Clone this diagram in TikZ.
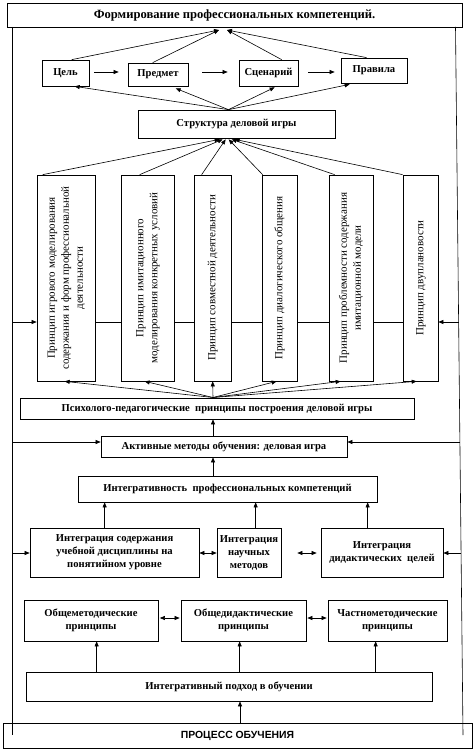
\documentclass[tikz,border=0pt]{standalone}
\usepackage{fontspec}
\setmainfont{Liberation Serif}
\newfontfamily\sansb{Liberation Sans}
\usetikzlibrary{arrows.meta,calc}
\tikzset{
  box/.style={draw, line width=0.7pt, fill=white, inner sep=1pt, align=center,
    font=\bfseries\fontsize{10.6}{13}\selectfont},
  vbox/.style={draw, line width=0.7pt, fill=white, inner sep=0pt, minimum height=206pt,
    font=\fontsize{11}{14}\selectfont},
  arr/.style={-{Triangle[length=5pt,width=4pt]}, line width=0.6pt},
  darr/.style={{Triangle[length=5pt,width=4pt]}-{Triangle[length=5pt,width=4pt]}, line width=0.6pt},
  ln/.style={line width=0.6pt}
}
\newcommand{\vtext}[1]{\rotatebox{90}{\begin{tabular}{@{}c@{}}#1\end{tabular}}}
\begin{document}
\begin{tikzpicture}[x=1pt,y=-1pt]
\useasboundingbox (0,0) rectangle (474,751);
% top
\node[box, minimum width=455pt, minimum height=24pt, font=\bfseries\fontsize{12.6}{14}\selectfont] (title) at (234.5,15) {Формирование профессиональных компетенций.};
% row of four
\node[box, minimum width=47pt, minimum height=26pt] (cel) at (65.5,73) {Цель};
\node[box, minimum width=60pt, minimum height=23pt] (pred) at (158,74.5) {Предмет};
\node[box, minimum width=59pt, minimum height=26pt] (scen) at (268.5,73) {Сценарий};
\node[box, minimum width=66pt, minimum height=25pt] (prav) at (374,70.5) {Правила};
\node[box, minimum width=197pt, minimum height=28pt] (str) at (236.5,124) {Структура деловой игры};
% vertical boxes
\node[vbox, minimum width=58pt] (b1) at (66,278) {\vtext{Принцип игрового моделирования\\содержания и форм профессиональной\\деятельности}};
\node[vbox, minimum width=53pt] (b2) at (147.5,278) {\vtext{Принцип имитационного\\моделирования конкретных условий}};
\node[vbox, minimum width=37pt] (b3) at (212.5,278) {\vtext{Принцип совместной деятельности}};
\node[vbox, minimum width=35pt] (b4) at (279.5,278) {\vtext{Принцип  диалогического общения}};
\node[vbox, minimum width=44pt] (b5) at (351,278) {\vtext{Принцип проблемности содержания\\имитационной модели}};
\node[vbox, minimum width=35pt] (b6) at (420.5,278) {\vtext{Принцип двуплановости}};
% middle
\node[box, minimum width=394pt, minimum height=21pt] (psy) at (217,408.5) {Психолого-педагогические \ принципы построения деловой игры};
\node[box, minimum width=246pt, minimum height=21pt] (act) at (224,446.5) {Активные методы обучения: деловая игра};
\node[box, minimum width=299pt, minimum height=26pt] (intg) at (227.5,489) {Интегративность \ профессиональных компетенций};
\node[box, minimum width=169pt, minimum height=49pt] (i1) at (114.5,552.5) {Интеграция содержания\\учебной дисциплины на\\понятийном уровне};
\node[box, minimum width=64pt, minimum height=49pt] (i2) at (249,552.5) {Интеграция\\научных\\методов};
\node[box, minimum width=122pt, minimum height=49pt] (i3) at (382,552.5) {Интеграция\\дидактических \ целей};
\node[box, minimum width=134pt, minimum height=41pt] (p1) at (91,620.5) {Общеметодические\\принципы};
\node[box, minimum width=125pt, minimum height=41pt] (p2) at (243.5,620.5) {Общедидактические\\принципы};
\node[box, minimum width=119pt, minimum height=41pt] (p3) at (387.5,620.5) {Частнометодические\\принципы};
\node[box, minimum width=406pt, minimum height=29pt] (pod) at (229,686.5) {Интегративный подход в обучении};
\node[box, minimum width=469pt, minimum height=25pt, font=\sansb\bfseries\fontsize{10.4}{12}\selectfont] (proc) at (237.5,735.5) {ПРОЦЕСС ОБУЧЕНИЯ};
% outer frame lines
\coordinate (Ltop) at (12,27);
\coordinate (Lbot) at (12,735);
\coordinate (Rtop) at (455.5,27);
\coordinate (Rbot) at (463,735);
\draw[ln] (Ltop) -- (Lbot);
\draw[ln] (Rtop) -- (Rbot);
% top connectors
\coordinate (tA) at (219,30);
\coordinate (tB) at (227,30);
\draw[arr] ([xshift=30pt]cel.north west) -- (tA);
\draw[arr] ([xshift=25pt]pred.north west) -- (tA);
\draw[arr] ([xshift=43pt]scen.north west) -- (tB);
\draw[arr] ([xshift=26pt]prav.north west) -- (tB);
\coordinate (hA) at (0,72);
\draw[arr, shorten <=5pt, shorten >=9pt] (cel.east |- hA) -- (pred.west |- hA);
\draw[arr, shorten <=14pt, shorten >=11pt] (pred.east |- hA) -- (scen.west |- hA);
\draw[arr, shorten <=10pt, shorten >=6pt] (scen.east |- hA) -- (prav.west |- hA);
\draw[arr] ([xshift=-8pt]str.north) -- ([xshift=33pt]cel.south west);
\draw[arr] ([xshift=-8pt]str.north) -- ([xshift=48pt, yshift=-2pt]pred.south west);
\draw[arr] ([xshift=-8pt]str.north) -- ([xshift=36pt, yshift=-1pt]scen.south west);
\draw[arr] ([xshift=-8pt]str.north) -- ([xshift=9pt, yshift=-1pt]prav.south west);
% vertical boxes to structure
\draw[arr] ([xshift=6pt]b1.north west) -- ([xshift=82pt, yshift=-1pt]str.south west);
\draw[arr] ([xshift=19pt]b2.north west) -- ([xshift=85pt, yshift=-1pt]str.south west);
\draw[arr] ([xshift=8pt]b3.north west) -- ([xshift=88pt, yshift=-1pt]str.south west);
\draw[arr] ([xshift=1pt]b4.north west) -- ([xshift=91pt, yshift=-1pt]str.south west);
\draw[arr] ([xshift=6pt]b5.north west) -- ([xshift=94pt, yshift=-1pt]str.south west);
\draw[arr] ([xshift=0pt]b6.north west) -- ([xshift=97pt, yshift=-1pt]str.south west);
% horizontal line through vertical boxes
\coordinate (hy) at (0,322);
\coordinate (R1) at (458.6,322);
\draw[arr] (Ltop |- hy) -- (b1.west |- hy);
\foreach \a/\b in {b1/b2,b2/b3,b3/b4,b4/b5,b5/b6} \draw[ln] (\a.east |- hy) -- (\b.west |- hy);
\draw[arr] (R1) -- (b6.east |- hy);
% psy to vertical boxes
\coordinate (pO) at (213,397.5);
\draw[arr] (pO) -- ([xshift=28pt]b1.south west);
\draw[arr] (pO) -- ([xshift=24pt]b2.south west);
\draw[arr] (pO) -- ([xshift=19pt]b3.south west);
\draw[arr] (pO) -- ([xshift=15pt]b4.south west);
\draw[arr] (pO) -- ([xshift=12pt]b5.south west);
\draw[arr] (pO) -- ([xshift=14pt]b6.south west);
% chain upwards
\coordinate (cx) at (213,0);
\draw[arr] (act.north -| cx) -- (psy.south -| cx);
\draw[arr] (intg.north -| cx) -- (act.south -| cx);
\coordinate (hB) at (0,442);
\coordinate (R2) at (459.7,442);
\draw[arr] (Ltop |- hB) -- (act.west |- hB);
\draw[arr] (R2) -- (act.east |- hB);
% integration row
\draw[arr] ([xshift=75pt]i1.north west) -- ([xshift=75pt]i1.north west |- intg.south);
\draw[arr] ([xshift=39pt]i2.north west) -- ([xshift=39pt]i2.north west |- intg.south);
\draw[arr] ([xshift=47pt]i3.north west) -- ([xshift=47pt]i3.north west |- intg.south);
\coordinate (hC) at (0,553);
\coordinate (R3) at (460.8,553);
\draw[darr] (i1.east |- hC) -- (i2.west |- hC);
\draw[darr, shorten <=16pt, shorten >=4pt] (i2.east |- hC) -- (i3.west |- hC);
\draw[arr] (Ltop |- hC) -- (i1.west |- hC);
\draw[arr] (R3) -- (i3.east |- hC);
% principles row
\coordinate (hD) at (0,618);
\draw[darr, shorten <=1.5pt, shorten >=1pt] (p1.east |- hD) -- (p2.west |- hD);
\draw[darr, shorten <=1pt, shorten >=1pt] (p2.east |- hD) -- (p3.west |- hD);
\draw[arr] ([xshift=71pt]pod.north west) -- ([xshift=71pt]pod.north west |- p1.south);
\draw[arr] ([xshift=214pt]pod.north west) -- ([xshift=214pt]pod.north west |- p2.south);
\draw[arr] ([xshift=350pt]pod.north west) -- ([xshift=350pt]pod.north west |- p3.south);
\coordinate (cy) at (240,0);
\draw[arr] (proc.north -| cy) -- (pod.south -| cy);
\end{tikzpicture}
\end{document}
